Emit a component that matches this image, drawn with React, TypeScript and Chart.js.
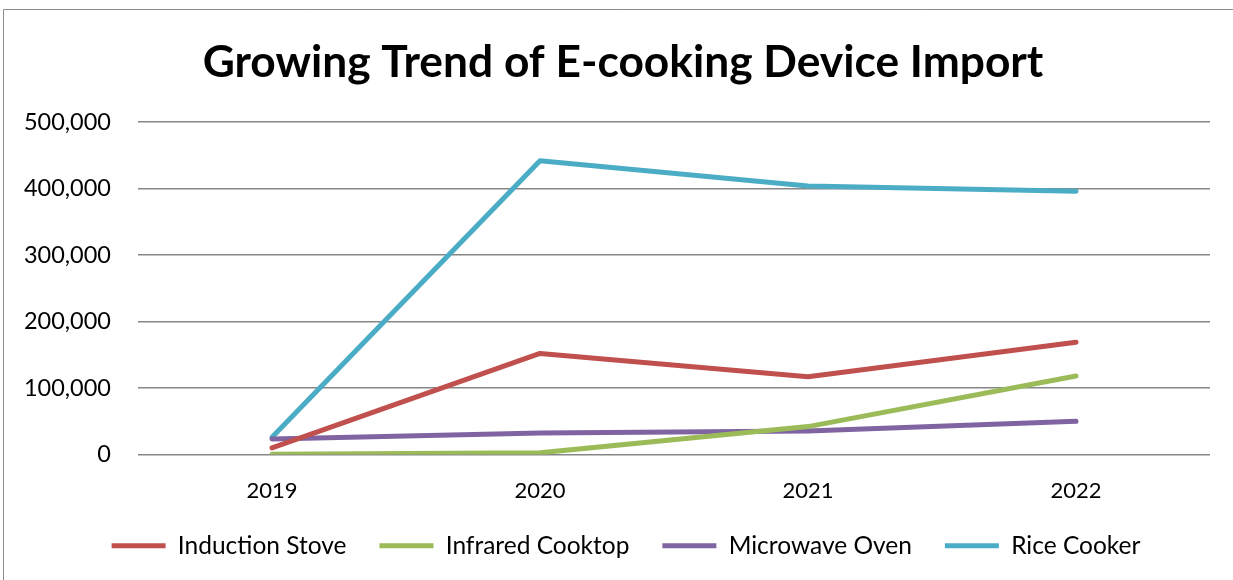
import React, { useEffect, useRef } from "react";
import { Chart, registerables } from "chart.js";

Chart.register(...registerables);

const years = ["2019", "2020", "2021", "2022"];
const inductionStove = [10000, 152000, 117000, 169000];
const infraredCooktop = [500, 2500, 42000, 118000];
const microwaveOven = [23500, 32500, 35500, 50000];
const riceCooker = [26000, 442000, 404000, 396000];
const titleText = "Growing Trend of E-cooking Device Import";

const FONT = "Lato, 'Open Sans', sans-serif";

const borderPlugin = {
  id: "frame",
  afterLayout(chart: any) {
    // Centre title and legend on the plot the way the source chart does
    if (chart.titleBlock) {
      chart.titleBlock.left += 18;
      chart.titleBlock.right += 18;
    }
    if (chart.legend) {
      chart.legend.left += 21;
      chart.legend.right += 21;
    }
  },
  beforeDraw(chart: any) {
    const ctx = chart.ctx;
    ctx.save();
    ctx.fillStyle = "#ffffff";
    ctx.fillRect(0, 0, chart.width, chart.height);
    ctx.strokeStyle = "#8c8c8c";
    ctx.lineWidth = 1;
    ctx.beginPath();
    ctx.moveTo(3.5, chart.height);
    ctx.lineTo(3.5, 9.5);
    ctx.lineTo(chart.width, 9.5);
    ctx.stroke();
    ctx.restore();
  },
};

export default function App() {
  const ref = useRef<HTMLCanvasElement>(null);
  useEffect(() => {
    if (!ref.current) return;
    const mk = (label: string, data: number[], color: string) => ({
      label,
      data,
      borderColor: color,
      backgroundColor: color,
      borderWidth: 5,
      borderCapStyle: "round" as const,
      borderJoinStyle: "round" as const,
      pointRadius: 0,
      pointHoverRadius: 0,
      tension: 0,
      fill: false,
    });
    const chart = new Chart(ref.current, {
      type: "line",
      data: {
        labels: years,
        datasets: [
          mk("Induction Stove", inductionStove, "#C0504D"),
          mk("Infrared Cooktop", infraredCooktop, "#9BBB59"),
          mk("Microwave Oven", microwaveOven, "#8064A2"),
          mk("Rice Cooker", riceCooker, "#4BACC6"),
        ],
      },
      options: {
        responsive: false,
        animation: false,
        layout: { padding: { left: 0, right: 23, top: 0, bottom: 12 } },
        plugins: {
          title: {
            display: true,
            text: titleText,
            color: "#000000",
            font: { family: FONT, size: 44.3, weight: "bold", lineHeight: 1.2 },
            padding: { top: 36, bottom: 33 },
          },
          legend: {
            position: "bottom",
            labels: {
              color: "#000000",
              font: { family: FONT, size: 24.5 },
              usePointStyle: true,
              pointStyle: "line",
              pointStyleWidth: 54,
              boxHeight: 24,
              padding: 33,
            },
          },
          tooltip: { enabled: false },
        },
        scales: {
          x: {
            offset: true,
            grid: { display: false, drawTicks: false },
            border: { display: false },
            ticks: {
              color: "#000000",
              font: { family: FONT, size: 22 },
              padding: 23,
              maxRotation: 0,
            },
            afterFit(scale: any) {
              scale.height = 46;
            },
          },
          y: {
            min: 0,
            max: 500000,
            grid: { color: "#868686", lineWidth: 1.5, drawTicks: false },
            border: { display: false },
            ticks: {
              stepSize: 100000,
              color: "#000000",
              font: { family: FONT, size: 23.5 },
              padding: 27,
              callback: (v: any) => Number(v).toLocaleString("en-US"),
            },
            afterFit(scale: any) {
              scale.width = 138;
            },
          },
        },
      } as any,
      plugins: [borderPlugin],
    });
    return () => chart.destroy();
  }, []);
  return (
    <div style={{ position: "fixed", left: 0, top: 0, width: 1233, height: 580 }}>
      <canvas ref={ref} width={1233} height={580} style={{ display: "block" }} />
    </div>
  );
}
